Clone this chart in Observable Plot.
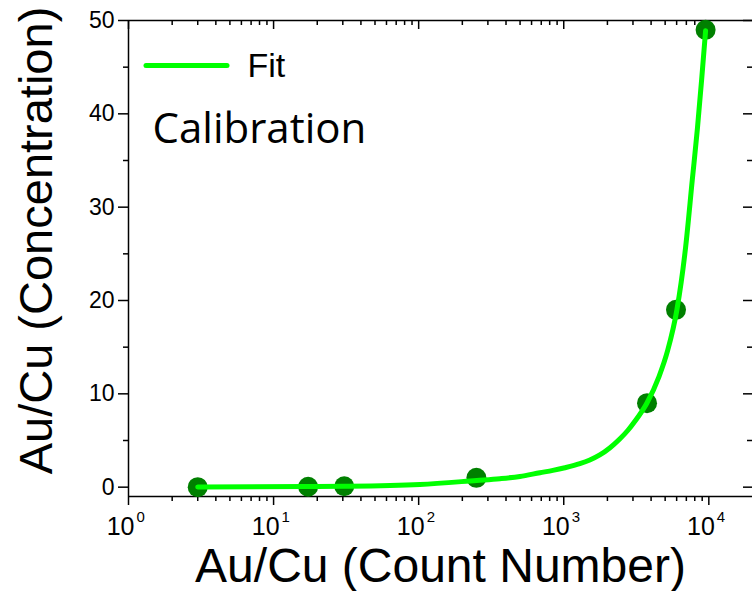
<!DOCTYPE html>
<html><head><meta charset="utf-8">
<script src="https://cdn.jsdelivr.net/npm/d3@7"></script>
<script src="https://cdn.jsdelivr.net/npm/@observablehq/plot@0.6"></script>
<style>html,body{margin:0;padding:0;background:#fff}svg{display:block}</style>
</head><body><div id="chart"></div>
<script>
// measured calibration points
const pointX = [3, 17.3, 30.7, 250, 3750, 5940, 9500];
const pointY = [0, 0.05, 0.1, 1.0, 9.0, 19.0, 49.0];
// fit curve
const fitX = [3, 17.3, 30.7, 102, 251, 363, 499, 685, 841, 1018, 1291, 1513, 1772, 2075, 2432, 2761, 3085, 3730, 4536, 5204, 6030, 6918, 7690, 8340, 8926, 9500];
const fitY = [0.02, 0.07, 0.1, 0.29, 0.72, 0.91, 1.15, 1.55, 1.80, 2.08, 2.51, 2.91, 3.45, 4.20, 5.16, 6.07, 7.04, 8.97, 11.85, 14.65, 19.04, 25.7, 32.9, 38.4, 43.7, 48.9];
// axes
const xDomain = [1, 20000];
const yDomain = [-1, 50];
const xMajorTicks = [1, 10, 100, 1000, 10000];
const xTickBase = ["10", "10", "10", "10", "10"];
const xTickExponents = ["0", "1", "2", "3", "4"];
const xMinorTicks = [];
for (const d of xMajorTicks) for (let m = 2; m <= 9; m++) if (m * d < xDomain[1]) xMinorTicks.push(m * d);
const yMajorTicks = [0, 10, 20, 30, 40, 50];
const yMinorTicks = [5, 15, 25, 35, 45];
// text
const xTitle = "Au/Cu (Count Number)";
const yTitle = "Au/Cu (Concentration)";
const legendLabel = "Fit";
const annotation = "Calibration";

const W = 752, H = 591, mL = 128, mR = 0, mT = 20, mB = 95;
const plotW = W - mL - mR, plotH = H - mT - mB;
const axisStyle = {stroke: "#000", strokeWidth: 1.5};
const pIdx = d3.range(pointX.length);
const fIdx = d3.range(fitX.length);

const chart = Plot.plot({
  width: W, height: H,
  marginLeft: mL, marginRight: mR, marginTop: mT, marginBottom: mB,
  style: {fontFamily: "'Liberation Sans', Arial, sans-serif", color: "#000", background: "#fff"},
  x: {type: "log", domain: xDomain, axis: null},
  y: {domain: yDomain, axis: null},
  marks: [
    // frame
    Plot.ruleX([xDomain[0]], axisStyle),
    Plot.ruleY([yDomain[0]], axisStyle),
    Plot.ruleY([yDomain[1]], axisStyle),
    // bottom ticks (outward)
    Plot.tickX(xMajorTicks, {x: d => d, insetTop: plotH, insetBottom: -9, ...axisStyle}),
    Plot.tickX(xMinorTicks, {x: d => d, insetTop: plotH, insetBottom: -5, ...axisStyle}),
    // top ticks (inward)
    Plot.tickX(xMajorTicks, {x: d => d, insetBottom: plotH - 9, ...axisStyle}),
    Plot.tickX(xMinorTicks, {x: d => d, insetBottom: plotH - 5, ...axisStyle}),
    // left ticks (outward)
    Plot.tickY(yMajorTicks, {y: d => d, insetLeft: -10, insetRight: plotW, ...axisStyle}),
    Plot.tickY(yMinorTicks, {y: d => d, insetLeft: -5, insetRight: plotW, ...axisStyle}),
    // right ticks (inward)
    Plot.tickY(yMajorTicks, {y: d => d, insetLeft: plotW - 9, ...axisStyle}),
    Plot.tickY(yMinorTicks, {y: d => d, insetLeft: plotW - 5, ...axisStyle}),
    // y tick labels
    Plot.text(yMajorTicks, {y: d => d, frameAnchor: "left", dx: -14, textAnchor: "end", lineAnchor: "middle", fontSize: 23, fill: "#000"}),
    // x tick labels
    Plot.text(xMajorTicks, {x: d => d, text: (d, i) => xTickBase[i], frameAnchor: "bottom", dx: 6, dy: 30, textAnchor: "end", lineAnchor: "middle", fontSize: 25, fill: "#000"}),
    Plot.text(xMajorTicks, {x: d => d, text: (d, i) => xTickExponents[i], frameAnchor: "bottom", dx: 8, dy: 21, textAnchor: "start", lineAnchor: "middle", fontSize: 15, fill: "#000"}),
    // titles
    Plot.text([xTitle], {frameAnchor: "bottom", dy: 70, textAnchor: "middle", lineAnchor: "middle", fontSize: 48, fill: "#000"}),
    Plot.text([yTitle], {frameAnchor: "left", dx: -92, dy: -18, rotate: -90, textAnchor: "middle", lineAnchor: "middle", fontSize: 47, fill: "#000"}),
    // data
    Plot.dot(pIdx, {x: i => pointX[i], y: i => pointY[i], r: 10, fill: "#008000", stroke: "none"}),
    Plot.line(fIdx, {x: i => fitX[i], y: i => fitY[i], stroke: "#00ff00", strokeWidth: 5, curve: "monotone-x"}),
    // legend
    Plot.ruleY([yDomain[1]], {dy: 45, insetLeft: 18, insetRight: plotW - 99, stroke: "#00ff00", strokeWidth: 5, strokeLinecap: "round"}),
    Plot.text([legendLabel], {frameAnchor: "top-left", dx: 119, dy: 46, textAnchor: "start", lineAnchor: "middle", fontSize: 34, fill: "#000"}),
    Plot.text([annotation], {frameAnchor: "top-left", dx: 24, dy: 109, textAnchor: "start", lineAnchor: "middle", fontSize: 42, fill: "#000", fontFamily: "'Open Sans', sans-serif"})
  ]
});
document.getElementById("chart").appendChild(chart);
</script>
</body></html>
